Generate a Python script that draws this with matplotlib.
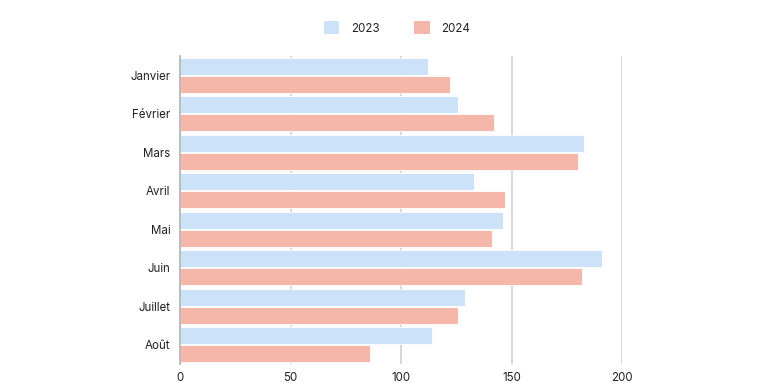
import matplotlib.pyplot as plt
import numpy as np
from matplotlib.patches import Patch

plt.rcParams['font.family'] = ['Inter', 'DejaVu Sans']

months = ['Janvier', 'Février', 'Mars', 'Avril', 'Mai', 'Juin', 'Juillet', 'Août']
values2023 = [112, 126, 183, 133, 146, 191, 129, 114]
values2024 = [122, 142, 180, 147, 141, 182, 126, 86]
xticks = [0, 50, 100, 150, 200]

color2023 = '#cce2f8'
color2024 = '#f4b7a9'

fig = plt.figure(figsize=(7.68, 3.83), dpi=100)
ax = fig.add_axes([180 / 768, 1 - 364 / 383, (622 - 180) / 768, (364 - 56) / 383])

y = np.arange(len(months))
h = 0.45
ax.barh(y - 0.235, values2023, height=h, color=color2023, edgecolor='white', linewidth=0.6, zorder=2)
ax.barh(y + 0.235, values2024, height=h, color=color2024, edgecolor='white', linewidth=0.6, zorder=2)

ax.set_xlim(0, 200)
ax.set_ylim(len(months) - 0.5, -0.5)
ax.set_xticks(xticks)
ax.set_yticks(y)
ax.set_yticklabels(months)
ax.tick_params(axis='both', length=0, labelsize=8.3, colors='#222222')
ax.tick_params(axis='y', pad=7)
ax.tick_params(axis='x', pad=6)

ax.grid(axis='x', color='#d4d4d4', linewidth=1.3, zorder=0)
ax.set_axisbelow(True)
for s in ['top', 'right', 'bottom']:
    ax.spines[s].set_visible(False)
ax.spines['left'].set_color('#b0b0b0')
ax.spines['left'].set_linewidth(1.2)

handles = [Patch(facecolor=color2023, label='2023'), Patch(facecolor=color2024, label='2024')]
fig.legend(handles=handles, loc='center', bbox_to_anchor=(397 / 768, 1 - 28 / 383), ncol=2,
           frameon=False, fontsize=8.3, handlelength=1.35, handleheight=1.35,
           columnspacing=3.0, handletextpad=1.0, labelcolor='#222222')

fig.savefig('out.png', dpi=100)
